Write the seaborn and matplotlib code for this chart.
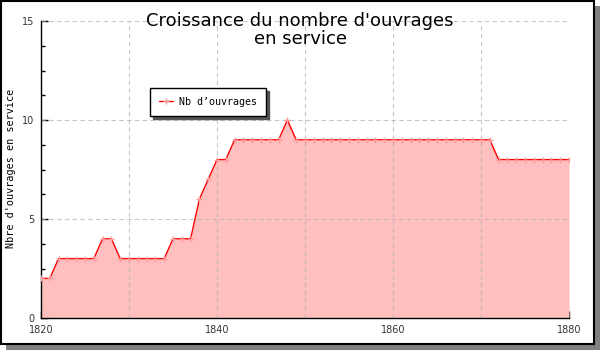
import matplotlib
matplotlib.use("Agg")
import matplotlib.pyplot as plt
import matplotlib.patches as mpatches
from matplotlib.ticker import MultipleLocator, FuncFormatter
import seaborn as sns
import pandas as pd

years = list(range(1820, 1881))
counts = [2, 2, 3, 3, 3, 3, 3, 4, 4, 3,
          3, 3, 3, 3, 3, 4, 4, 4, 6, 7,
          8, 8, 9, 9, 9, 9, 9, 9, 10, 9,
          9, 9, 9, 9, 9, 9, 9, 9, 9, 9,
          9, 9, 9, 9, 9, 9, 9, 9, 9, 9,
          9, 9, 8, 8, 8, 8, 8, 8, 8, 8,
          8]
title = "Croissance du nombre d'ouvrages\nen service"
ylabel = "Nbre d'ouvrages en service"
series_name = "Nb d\u2019ouvrages"
x_labels = [1820, 1840, 1860, 1880]
x_grid = [1830, 1840, 1850, 1860, 1870, 1880]
y_grid = [5, 10, 15]

df = pd.DataFrame({"year": years, "count": counts})

sns.set_theme(style="white")
plt.rcParams["font.family"] = ["DejaVu Sans"]

W, H = 600, 350
fig = plt.figure(figsize=(6, 3.5), dpi=100, facecolor="white")

# frame with shadow
fig.patches.append(mpatches.Rectangle((6 / W, 0), 594 / W, 344 / H, transform=fig.transFigure,
                                      facecolor="#808080", edgecolor="none", zorder=-2))
fig.patches.append(mpatches.Rectangle((0.5 / W, 6.5 / H), 593 / W, 343 / H, transform=fig.transFigure,
                                      facecolor="white", edgecolor="black", linewidth=1.5, zorder=-1))

ax = fig.add_axes([41 / W, 32 / H, 528 / W, 297 / H])
ax.set_facecolor("none")

ax.fill_between(df["year"], df["count"], 0, color="#ffbfbf", linewidth=0, zorder=1)
sns.lineplot(data=df, x="year", y="count", ax=ax, color="red", linewidth=1,
             marker="+", markersize=4, markeredgecolor="#ff9a9a", markeredgewidth=1,
             label=series_name, zorder=3)

for gx in x_grid:
    ax.axvline(gx, color="#b0b0b0", linestyle=(0, (4, 3)), linewidth=0.8, alpha=0.7, zorder=2)
for gy in y_grid:
    ax.axhline(gy, color="#b0b0b0", linestyle=(0, (4, 3)), linewidth=0.8, alpha=0.7, zorder=2)

ax.set_xlim(1820, 1880)
ax.set_ylim(0, 15)
ax.xaxis.set_major_locator(MultipleLocator(5))
ax.xaxis.set_minor_locator(MultipleLocator(1))
ax.xaxis.set_major_formatter(FuncFormatter(lambda v, p: f"{int(round(v))}" if int(round(v)) in x_labels else ""))
ax.yaxis.set_major_locator(MultipleLocator(5))
ax.yaxis.set_minor_locator(MultipleLocator(1.25))
ax.tick_params(which="major", direction="in", length=5, width=1, colors="black",
               labelsize=7, labelcolor="#333333")
ax.tick_params(axis="x", which="major", pad=5)
ax.tick_params(axis="y", which="major", pad=5)
ax.tick_params(which="minor", direction="in", length=3, width=1, colors="black")
ax.tick_params(axis="x", which="both", bottom=True)
ax.tick_params(axis="y", which="both", left=True)

for s in ["top", "right"]:
    ax.spines[s].set_visible(False)
for s in ["left", "bottom"]:
    ax.spines[s].set_color("black")
    ax.spines[s].set_linewidth(1)

ax.set_xlabel("")
ax.set_ylabel(ylabel, family=["DejaVu Sans Mono"], fontsize=7.3, color="black")
ax.yaxis.set_label_coords(-0.047, 0.505)

fig.text(300 / W, 1 - 30 / H, title, ha="center", va="center", fontsize=13,
         linespacing=0.95, color="black")

leg = ax.legend(loc="upper left", bbox_to_anchor=(0.206, 0.775), frameon=True, fancybox=False,
                shadow={"color": "#555555", "alpha": 1}, edgecolor="black", framealpha=1,
                prop={"family": "DejaVu Sans Mono", "size": 7.2}, handlelength=1.4,
                borderpad=0.9, handletextpad=0.6, borderaxespad=0)
leg.get_frame().set_linewidth(1)
for t in leg.get_texts():
    t.set_color("black")

fig.savefig("out.png", dpi=100, facecolor="white")
